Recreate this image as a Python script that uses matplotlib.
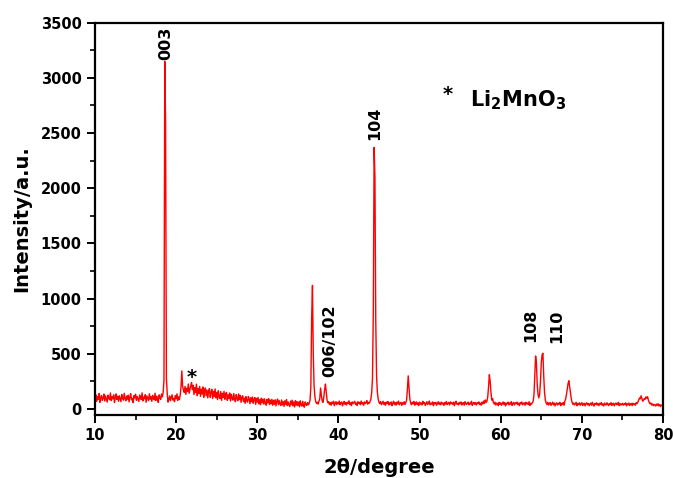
import numpy as np
import matplotlib
matplotlib.use("Agg")
import matplotlib.pyplot as plt
from matplotlib.ticker import MultipleLocator

# 2-theta grid: 10.0 .. 80.0 in 0.1 degree steps
two_theta = np.round(np.arange(100, 801) / 10.0, 1)

# Intensity, one row per degree (d.0 ... d.9)
rows = [
    [95, 130, 70, 112, 88, 140, 60, 105, 122, 78],        # 10
    [98, 135, 72, 118, 90, 62, 126, 100, 84, 145],        # 11
    [76, 110, 92, 128, 58, 104, 137, 86, 115, 70],        # 12
    [120, 93, 66, 131, 102, 80, 142, 95, 74, 117],        # 13
    [88, 125, 64, 108, 139, 82, 97, 57, 121, 100],        # 14
    [134, 79, 113, 91, 68, 127, 103, 85, 146, 73],        # 15
    [107, 92, 130, 61, 118, 96, 76, 138, 89, 111],        # 16
    [69, 124, 99, 83, 143, 77, 116, 94, 59, 128],         # 17
    [102, 87, 136, 110, 150, 260, 3150, 2600, 280, 140],  # 18
    [62, 88, 118, 75, 104, 129, 81, 96, 66, 121],         # 19
    [92, 137, 78, 110, 85, 126, 200, 345, 205, 170],      # 20
    [150, 205, 132, 188, 160, 226, 142, 178, 210, 240],   # 21
    [175, 215, 130, 195, 150, 225, 120, 185, 140, 205],   # 22
    [115, 180, 135, 200, 105, 165, 190, 120, 172, 100],   # 23
    [160, 185, 105, 150, 178, 95, 158, 115, 182, 100],    # 24
    [148, 85, 165, 110, 95, 158, 78, 142, 104, 160],      # 25
    [88, 136, 150, 78, 128, 94, 145, 72, 132, 100],       # 26
    [80, 140, 92, 66, 130, 98, 74, 136, 86, 124],         # 27
    [60, 108, 120, 66, 98, 50, 112, 74, 62, 114],         # 28
    [92, 48, 102, 66, 108, 52, 88, 104, 42, 96],          # 29
    [62, 104, 46, 84, 38, 98, 56, 90, 44, 92],            # 30
    [50, 34, 88, 56, 94, 40, 80, 46, 88, 34],             # 31
    [78, 42, 84, 28, 70, 90, 38, 76, 44, 32],             # 32
    [82, 36, 66, 24, 74, 42, 86, 30, 64, 38],             # 33
    [22, 72, 40, 80, 28, 64, 18, 76, 34, 68],             # 34
    [30, 62, 20, 74, 36, 26, 70, 32, 16, 64],             # 35
    [44, 32, 58, 38, 52, 80, 200, 820, 1120, 500],        # 36
    [210, 110, 68, 50, 62, 44, 70, 95, 190, 120],         # 37
    [72, 60, 110, 175, 226, 150, 80, 55, 66, 40],         # 38
    [58, 34, 62, 48, 70, 30, 54, 66, 40, 60],             # 39
    [46, 72, 38, 56, 64, 28, 52, 68, 42, 58],             # 40
    [36, 62, 50, 74, 40, 56, 30, 64, 48, 58],             # 41
    [70, 42, 54, 32, 66, 50, 60, 38, 72, 46],             # 42
    [56, 34, 64, 48, 58, 76, 44, 60, 52, 68],             # 43
    [90, 150, 280, 900, 2370, 2100, 800, 300, 150, 90],   # 44
    [60, 48, 66, 38, 54, 70, 42, 58, 34, 62],             # 45
    [50, 68, 36, 56, 44, 64, 30, 52, 70, 40],             # 46
    [58, 34, 62, 46, 72, 38, 54, 60, 32, 56],             # 47
    [44, 66, 40, 58, 80, 180, 300, 200, 90, 55],          # 48
    [38, 60, 46, 68, 34, 52, 64, 40, 56, 30],             # 49
    [62, 44, 54, 36, 70, 48, 58, 32, 50, 66],             # 50
    [40, 56, 72, 38, 52, 44, 64, 30, 58, 46],             # 51
    [60, 34, 50, 66, 42, 56, 38, 62, 46, 54],             # 52
    [32, 58, 44, 68, 40, 52, 60, 36, 64, 48],             # 53
    [56, 42, 62, 30, 54, 70, 44, 50, 38, 60],             # 54
    [46, 64, 36, 52, 58, 34, 66, 48, 40, 56],             # 55
    [62, 38, 54, 44, 70, 32, 50, 60, 42, 58],             # 56
    [36, 56, 48, 64, 40, 52, 34, 62, 46, 72],             # 57
    [50, 82, 60, 70, 110, 200, 310, 250, 150, 80],        # 58
    [95, 58, 44, 62, 36, 54, 48, 30, 60, 42],             # 59
    [56, 34, 50, 64, 40, 58, 28, 52, 46, 62],             # 60
    [38, 54, 44, 66, 32, 50, 60, 36, 56, 48],             # 61
    [62, 40, 52, 30, 58, 46, 64, 38, 50, 56],             # 62
    [34, 60, 46, 54, 40, 66, 32, 52, 44, 58],             # 63
    [70, 130, 300, 480, 420, 220, 130, 100, 140, 250],    # 64
    [420, 490, 505, 300, 150, 80, 54, 40, 60, 36],        # 65
    [50, 58, 32, 46, 62, 38, 54, 28, 48, 56],             # 66
    [36, 52, 44, 60, 30, 50, 42, 58, 34, 70],             # 67
    [90, 130, 180, 230, 256, 200, 140, 90, 60, 42],       # 68
    [54, 36, 48, 60, 30, 50, 40, 56, 34, 46],             # 69
    [58, 32, 44, 52, 28, 48, 56, 38, 50, 30],             # 70
    [46, 54, 34, 60, 40, 26, 50, 44, 56, 36],             # 71
    [48, 30, 52, 42, 58, 34, 46, 28, 54, 40],             # 72
    [36, 56, 44, 30, 50, 40, 58, 32, 48, 52],             # 73
    [28, 46, 54, 38, 44, 60, 30, 50, 36, 42],             # 74
    [52, 34, 46, 40, 56, 28, 48, 38, 54, 32],             # 75
    [44, 50, 30, 52, 40, 46, 34, 58, 48, 62],             # 76
    [80, 100, 92, 120, 96, 70, 80, 95, 88, 110],          # 77
    [98, 111, 80, 60, 48, 54, 36, 46, 30, 42],            # 78
    [38, 26, 44, 32, 48, 28, 40, 22, 36, 30],             # 79
    [28],                                                 # 80.0
]
intensity = [v for r in rows for v in r]

# Peak labels (hkl), positions
peak_labels = ["003", "006/102", "104", "108", "110"]
peak_label_x = [18.75, 38.96, 44.45, 63.73, 66.9]
peak_label_y = [3160, 293, 2437, 610, 600]

x_ticks = [10, 20, 30, 40, 50, 60, 70, 80]
y_ticks = [0, 500, 1000, 1500, 2000, 2500, 3000, 3500]

plt.rcParams['font.family'] = ['DejaVu Sans']
plt.rcParams['mathtext.fontset'] = 'dejavusans'

fig = plt.figure(figsize=(6.73, 4.78), dpi=100)
ax = fig.add_axes([95/673, 1-414.5/478, 568/673, (414.5-22.7)/478])

ax.plot(two_theta, intensity, color='#ff0000', lw=1.0)

ax.set_xlim(10, 80)
ax.set_ylim(-50, 3500)
ax.set_xticks(x_ticks)
ax.set_yticks(y_ticks)
ax.xaxis.set_minor_locator(MultipleLocator(5))
ax.yaxis.set_minor_locator(MultipleLocator(250))

for sp in ax.spines.values():
    sp.set_linewidth(1.6)
ax.tick_params(which='major', direction='out', length=6, width=1.4,
               labelsize=10.5, pad=3.5)
ax.tick_params(which='minor', direction='out', length=3.5, width=1.2)
ax.tick_params(top=False, right=False, which='both')
for lab in ax.get_xticklabels() + ax.get_yticklabels():
    lab.set_fontweight('bold')

ax.set_xlabel("2θ/degree", fontsize=14, fontweight='bold')
ax.set_ylabel("Intensity/a.u.", fontsize=14, fontweight='bold')
ax.xaxis.set_label_coords(0.5, -0.11)
ax.yaxis.set_label_coords(-0.112, 0.5)

for t, x, y in zip(peak_labels, peak_label_x, peak_label_y):
    ax.text(x, y, t, rotation=90, ha='center', va='bottom', fontsize=11.5,
            fontweight='bold')

ax.text(21.92, 287, "*", ha='center', va='center', fontsize=14, fontweight='bold')
ax.text(53.5, 2850, "*", ha='center', va='center', fontsize=14, fontweight='bold')
ax.text(56.2, 2739, r"$\mathbf{Li_2MnO_3}$", ha='left', va='baseline', fontsize=15)

fig.savefig("out.png", dpi=100)
